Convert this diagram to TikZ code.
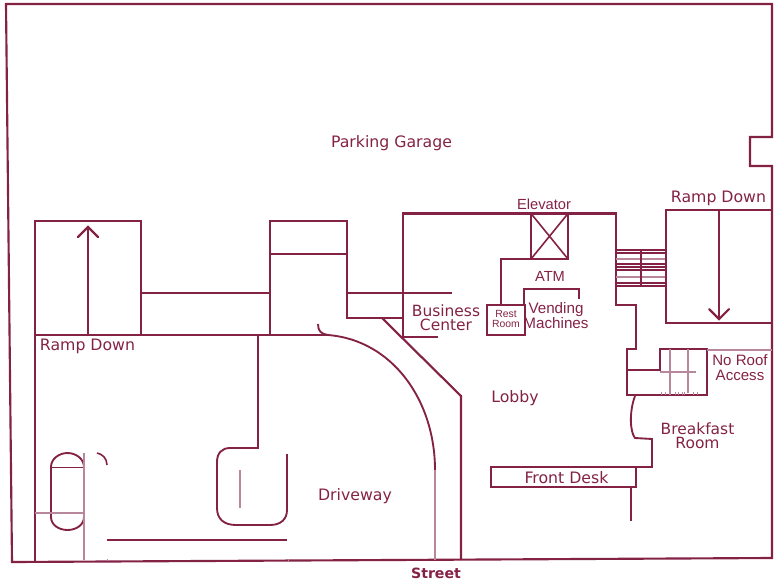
\documentclass[tikz,border=0pt]{standalone}
\usepackage{fontspec}
\setmainfont{DejaVu Sans}
\newfontfamily\labelfont{Liberation Sans}
\definecolor{wine}{HTML}{842245}
\definecolor{winelight}{HTML}{B8879B}
\tikzset{
  wall/.style={draw=wine,line width=1.6pt,line join=miter},
  thin wall/.style={draw=wine,line width=1.2pt},
  light wall/.style={draw=winelight,line width=.8pt},
  lbl/.style={text=wine,inner sep=0pt,align=center,font=\fontsize{11.8pt}{11pt}\selectfont},
  smalllbl/.style={text=wine,inner sep=0pt,align=center,font=\labelfont\fontsize{11pt}{11pt}\selectfont},
  tiny lbl/.style={text=wine,inner sep=0pt,align=center,font=\labelfont\fontsize{7.8pt}{8pt}\selectfont},
  ramp arrow/.style={wall,line cap=round}
}
\begin{document}
\begin{tikzpicture}[x=0.75pt,y=-0.75pt]
\useasboundingbox (0,0) rectangle (775,582);
% outer outline
\draw[wall] (6,4) -- (772,4) -- (772,137) -- (750,137) -- (750,166) -- (772,166) -- (772,558) -- (12,562) -- cycle;
% left ramp
\draw[wall] (35,562) -- (35,221) -- (141,221) -- (141,335);
\draw[wall] (35,335) -- (328,335);
\coordinate (la) at (88,335); \coordinate (lb) at (88,227);
\draw[ramp arrow] (la) -- (lb);
\draw[ramp arrow] (78,237) -- (lb) -- (98,237);
\draw[wall] (141,293) -- (270,293);
% ramp connector block
\draw[wall] (270,335) -- (270,221) -- (347,221) -- (347,318) -- (403,318);
\draw[wall] (270,254) -- (347,254);
\draw[wall] (347,293) -- (452,293);
% lobby walls
\draw[wall] (403,337) -- (403,213.5) -- (616,213.5) -- (616,305) -- (636,305) -- (636,349) -- (627,349) -- (627,395) -- (707,395) -- (707,349) -- (660,349) -- (660,370) -- (627,370);
\draw[wall] (403,337) -- (438,337);
\draw[wall] (382,318) -- (461,396) -- (461,560);
% elevator
\draw[wall] (531,213.5) rectangle (568,259);
\draw[thin wall] (531,213.5) -- (568,259) (568,213.5) -- (531,259);
\draw[wall] (531,259) -- (501,259) -- (501,305);
% rest room, vending
\draw[wall] (487,305) rectangle (525,335);
\draw[wall] (524,305) -- (524,289) -- (579,289) -- (579,299);
% stairs
\foreach \y in {250,253,264,267,270,283,286} \draw[thin wall] (616,\y) -- (666,\y);
\foreach \y in {259,277} \draw[light wall] (616,\y) -- (666,\y);
\draw[thin wall] (641,250) -- (641,286);
% right ramp
\draw[wall] (772,210) -- (666,210) -- (666,323) -- (772,323);
\coordinate (ra) at (719,210); \coordinate (rb) at (719,319);
\draw[ramp arrow] (ra) -- (rb);
\draw[ramp arrow] (709,309) -- (rb) -- (729,309);
% no roof access
\draw[light wall] (707,350) -- (772,350);
\draw[light wall] (670,349) -- (670,395);
\draw[light wall] (688,349) -- (688,393);
\draw[light wall] (660,372) -- (696,372);
\foreach \x in {661,665,675,678,682,684,693,697} \draw[light wall,line width=.7pt] (\x,392) -- (\x,395);
% breakfast room
\draw[wall,line width=1.4pt] (635,396) .. controls (629,412) and (630,432) .. (635,438) -- (652,439) -- (652,467) -- (636,467);
\draw[wall] (491,467) rectangle (636,487);
\draw[wall] (631,487) -- (631,521);
% driveway
\draw[wall,line width=1.4pt] (258,335) -- (258,448) -- (230,448) .. controls (222,448) and (217,453) .. (217,462) -- (217,508) .. controls (217,519) and (224,525) .. (236,525) -- (270,525) .. controls (281,525) and (287,519) .. (287,510) -- (287,454);
\draw[light wall,line width=1.2pt] (240,470) -- (240,508);
\draw[thin wall,line width=1.4pt] (318,324) .. controls (318,331) and (321,334) .. (328,335) .. controls (392,340) and (435,400) .. (435,470);
\draw[light wall] (435,470) -- (435,560);
% car
\draw[thin wall,line width=1.4pt] (51,467) .. controls (51,459) and (59,453) .. (67.5,453) .. controls (76,453) and (84,459) .. (84,467) -- (84,517) .. controls (84,525) and (76,530) .. (67.5,530) .. controls (59,530) and (51,525) .. (51,517) -- cycle;
\draw[thin wall] (51,467.5) -- (84,467.5);
\draw[light wall] (35,513) -- (84,513);
\draw[light wall] (84,453) -- (84,560);
\draw[thin wall] (97,453) .. controls (102,454) and (107,458) .. (107,465);
\draw[wall] (107,540) -- (287,540);
\draw[light wall,line width=.7pt] (107,559) -- (107,561) (288,559) -- (288,561);
% labels
\node[lbl] (parking) at (391.5,143.5) {Parking Garage};
\node[lbl] (rampr) at (718.5,198.5) {Ramp Down};
\node[lbl] (rampl) at (87.5,346.5) {Ramp Down};
\node[smalllbl] (elev) at (544,204) {Elevator};
\node[smalllbl] (atm) at (550,276) {ATM};
\node[smalllbl,font=\labelfont\fontsize{11.4pt}{11.2pt}\selectfont] (vend) at (556,315.5) {Vending\\Machines};
\node[tiny lbl] (rest) at (506,319) {Rest\\Room};
\node[lbl,font=\fontsize{11.6pt}{10.8pt}\selectfont] (biz) at (446,317.5) {Business\\Center};
\node[lbl] (lobby) at (515,398.5) {Lobby};
\node[lbl,font=\fontsize{11.6pt}{10.3pt}\selectfont] (bfast) at (697.5,435.5) {Breakfast\\Room};
\node[lbl] (desk) at (566.5,478) {Front Desk};
\node[lbl] (drive) at (355,496.5) {Driveway};
\node[smalllbl,font=\labelfont\fontsize{11.3pt}{10.8pt}\selectfont] (noroof) at (740,367.5) {No Roof\\Access};
\node[lbl,font=\bfseries\fontsize{10.6pt}{11pt}\selectfont] (street) at (436,573) {Street};
\end{tikzpicture}
\end{document}
